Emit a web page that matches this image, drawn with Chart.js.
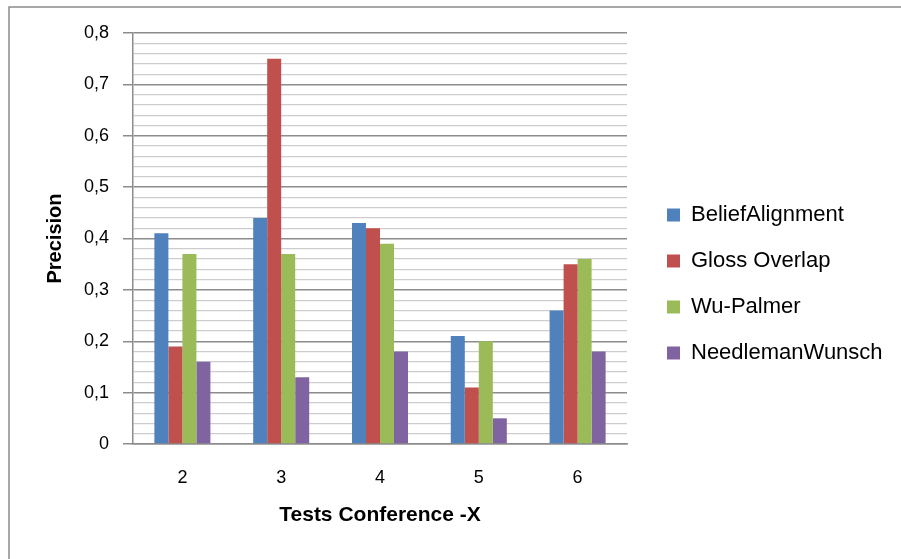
<!DOCTYPE html>
<html>
<head>
<meta charset="utf-8">
<script src="https://cdn.jsdelivr.net/npm/chart.js@4.4.0/dist/chart.umd.min.js"></script>
<style>
body { margin: 0; background: #fff; }
</style>
</head>
<body>
<canvas id="mycanvas" width="901" height="559"></canvas>
<script>
// data
var tests = ['2', '3', '4', '5', '6'];
var seriesNames = ['BeliefAlignment', 'Gloss Overlap', 'Wu-Palmer', 'NeedlemanWunsch'];
var beliefAlignment = [0.41, 0.44, 0.43, 0.21, 0.26];
var glossOverlap = [0.19, 0.75, 0.42, 0.11, 0.35];
var wuPalmer = [0.37, 0.37, 0.39, 0.20, 0.36];
var needlemanWunsch = [0.16, 0.13, 0.18, 0.05, 0.18];
var colors = ['#4f81bd', '#c0504d', '#9bbb59', '#8064a2'];

var values = [beliefAlignment, glossOverlap, wuPalmer, needlemanWunsch];
var datasets = [];
for (var i in values) {
	datasets.push({
		label: seriesNames[i],
		data: values[i],
		backgroundColor: colors[i],
		borderWidth: 0,
		xAxisID: 'x',
		yAxisID: 'y',
		categoryPercentage: 0.567,
		barPercentage: 1
	});
}

function isMajor(v) {
	return Math.round(v * 50) % 5 === 0;
}

// grey frame round the whole chart, open at right and bottom
var framePlugin = {
	id: 'frame',
	beforeDraw: function(chart) {
		var c = chart.ctx;
		c.save();
		c.fillStyle = '#fff';
		c.fillRect(0, 0, chart.width, chart.height);
		c.strokeStyle = '#8a8a8a';
		c.lineWidth = 1.5;
		c.strokeRect(9, 7, chart.width + 20, chart.height + 20);
		c.restore();
	}
};

// legend box wider than the default layout cap
var legendWidthPlugin = {
	id: 'legendWidth',
	beforeLayout: function(chart) {
		var lg = chart.legend;
		if (lg && !lg._fixedFit) {
			var fit = lg.fit;
			lg.fit = function() {
				fit.call(this);
				this.width = 258;
			};
			lg._fixedFit = true;
		}
	}
};

Chart.defaults.font.family = "'Liberation Sans', Arial, sans-serif";
Chart.defaults.color = '#000';

var ctx = document.getElementById('mycanvas');
var barGraph = new Chart(ctx, {
	type: 'bar',
	data: { labels: tests, datasets: datasets },
	plugins: [framePlugin, legendWidthPlugin],
	options: {
		responsive: false,
		animation: false,
		layout: { padding: { top: 9, right: 0, bottom: 0, left: 0 } },
		plugins: {
			tooltip: { enabled: false },
			legend: {
				position: 'right',
				align: 'center',
				labels: {
					boxWidth: 13,
					boxHeight: 13,
					padding: 24,
					font: { size: 22 },
					color: '#000'
				}
			}
		},
		scales: {
			x: {
				grid: { display: false, drawTicks: false },
				border: { color: '#8c8c8c', width: 1.5 },
				ticks: { padding: 23, font: { size: 18 } },
				title: {
					display: true,
					text: 'Tests Conference -X',
					font: { size: 21, weight: 'bold' },
					padding: { top: 0, bottom: 31 }
				},
				afterFit: function(s) { s.height = 115; }
			},
			y: {
				min: 0,
				max: 0.8,
				ticks: {
					stepSize: 0.02,
					autoSkip: false,
					padding: 14,
					font: { size: 18 },
					callback: function(v) {
						var k = Math.round(v * 50);
						if (k % 5) return '';
						return k === 0 ? '0' : (k / 50).toFixed(1).replace('.', ',');
					}
				},
				grid: {
					color: function(c) { return c.tick && isMajor(c.tick.value) ? '#8c8c8c' : '#cdcdcd'; },
					lineWidth: function(c) { return c.tick && isMajor(c.tick.value) ? 1.5 : 1.2; },
					tickColor: function(c) { return c.tick && isMajor(c.tick.value) ? '#8c8c8c' : 'rgba(0,0,0,0)'; },
					tickLength: 10
				},
				border: { color: '#8c8c8c', width: 1.5 },
				title: {
					display: true,
					text: 'Precision',
					font: { size: 20, weight: 'bold' },
					padding: { top: 43, bottom: 0 }
				},
				afterFit: function(s) { s.width = 133; }
			},
			xTop: {
				type: 'linear',
				position: 'top',
				grid: { display: false, drawTicks: false },
				border: { display: false },
				ticks: { display: false },
				afterFit: function(s) { s.height = 24; }
			},
			yR: {
				type: 'linear',
				position: 'right',
				grid: { display: false, drawTicks: false },
				border: { display: false },
				ticks: { display: false },
				afterFit: function(s) { s.width = 16; }
			}
		}
	}
});
</script>
</body>
</html>
